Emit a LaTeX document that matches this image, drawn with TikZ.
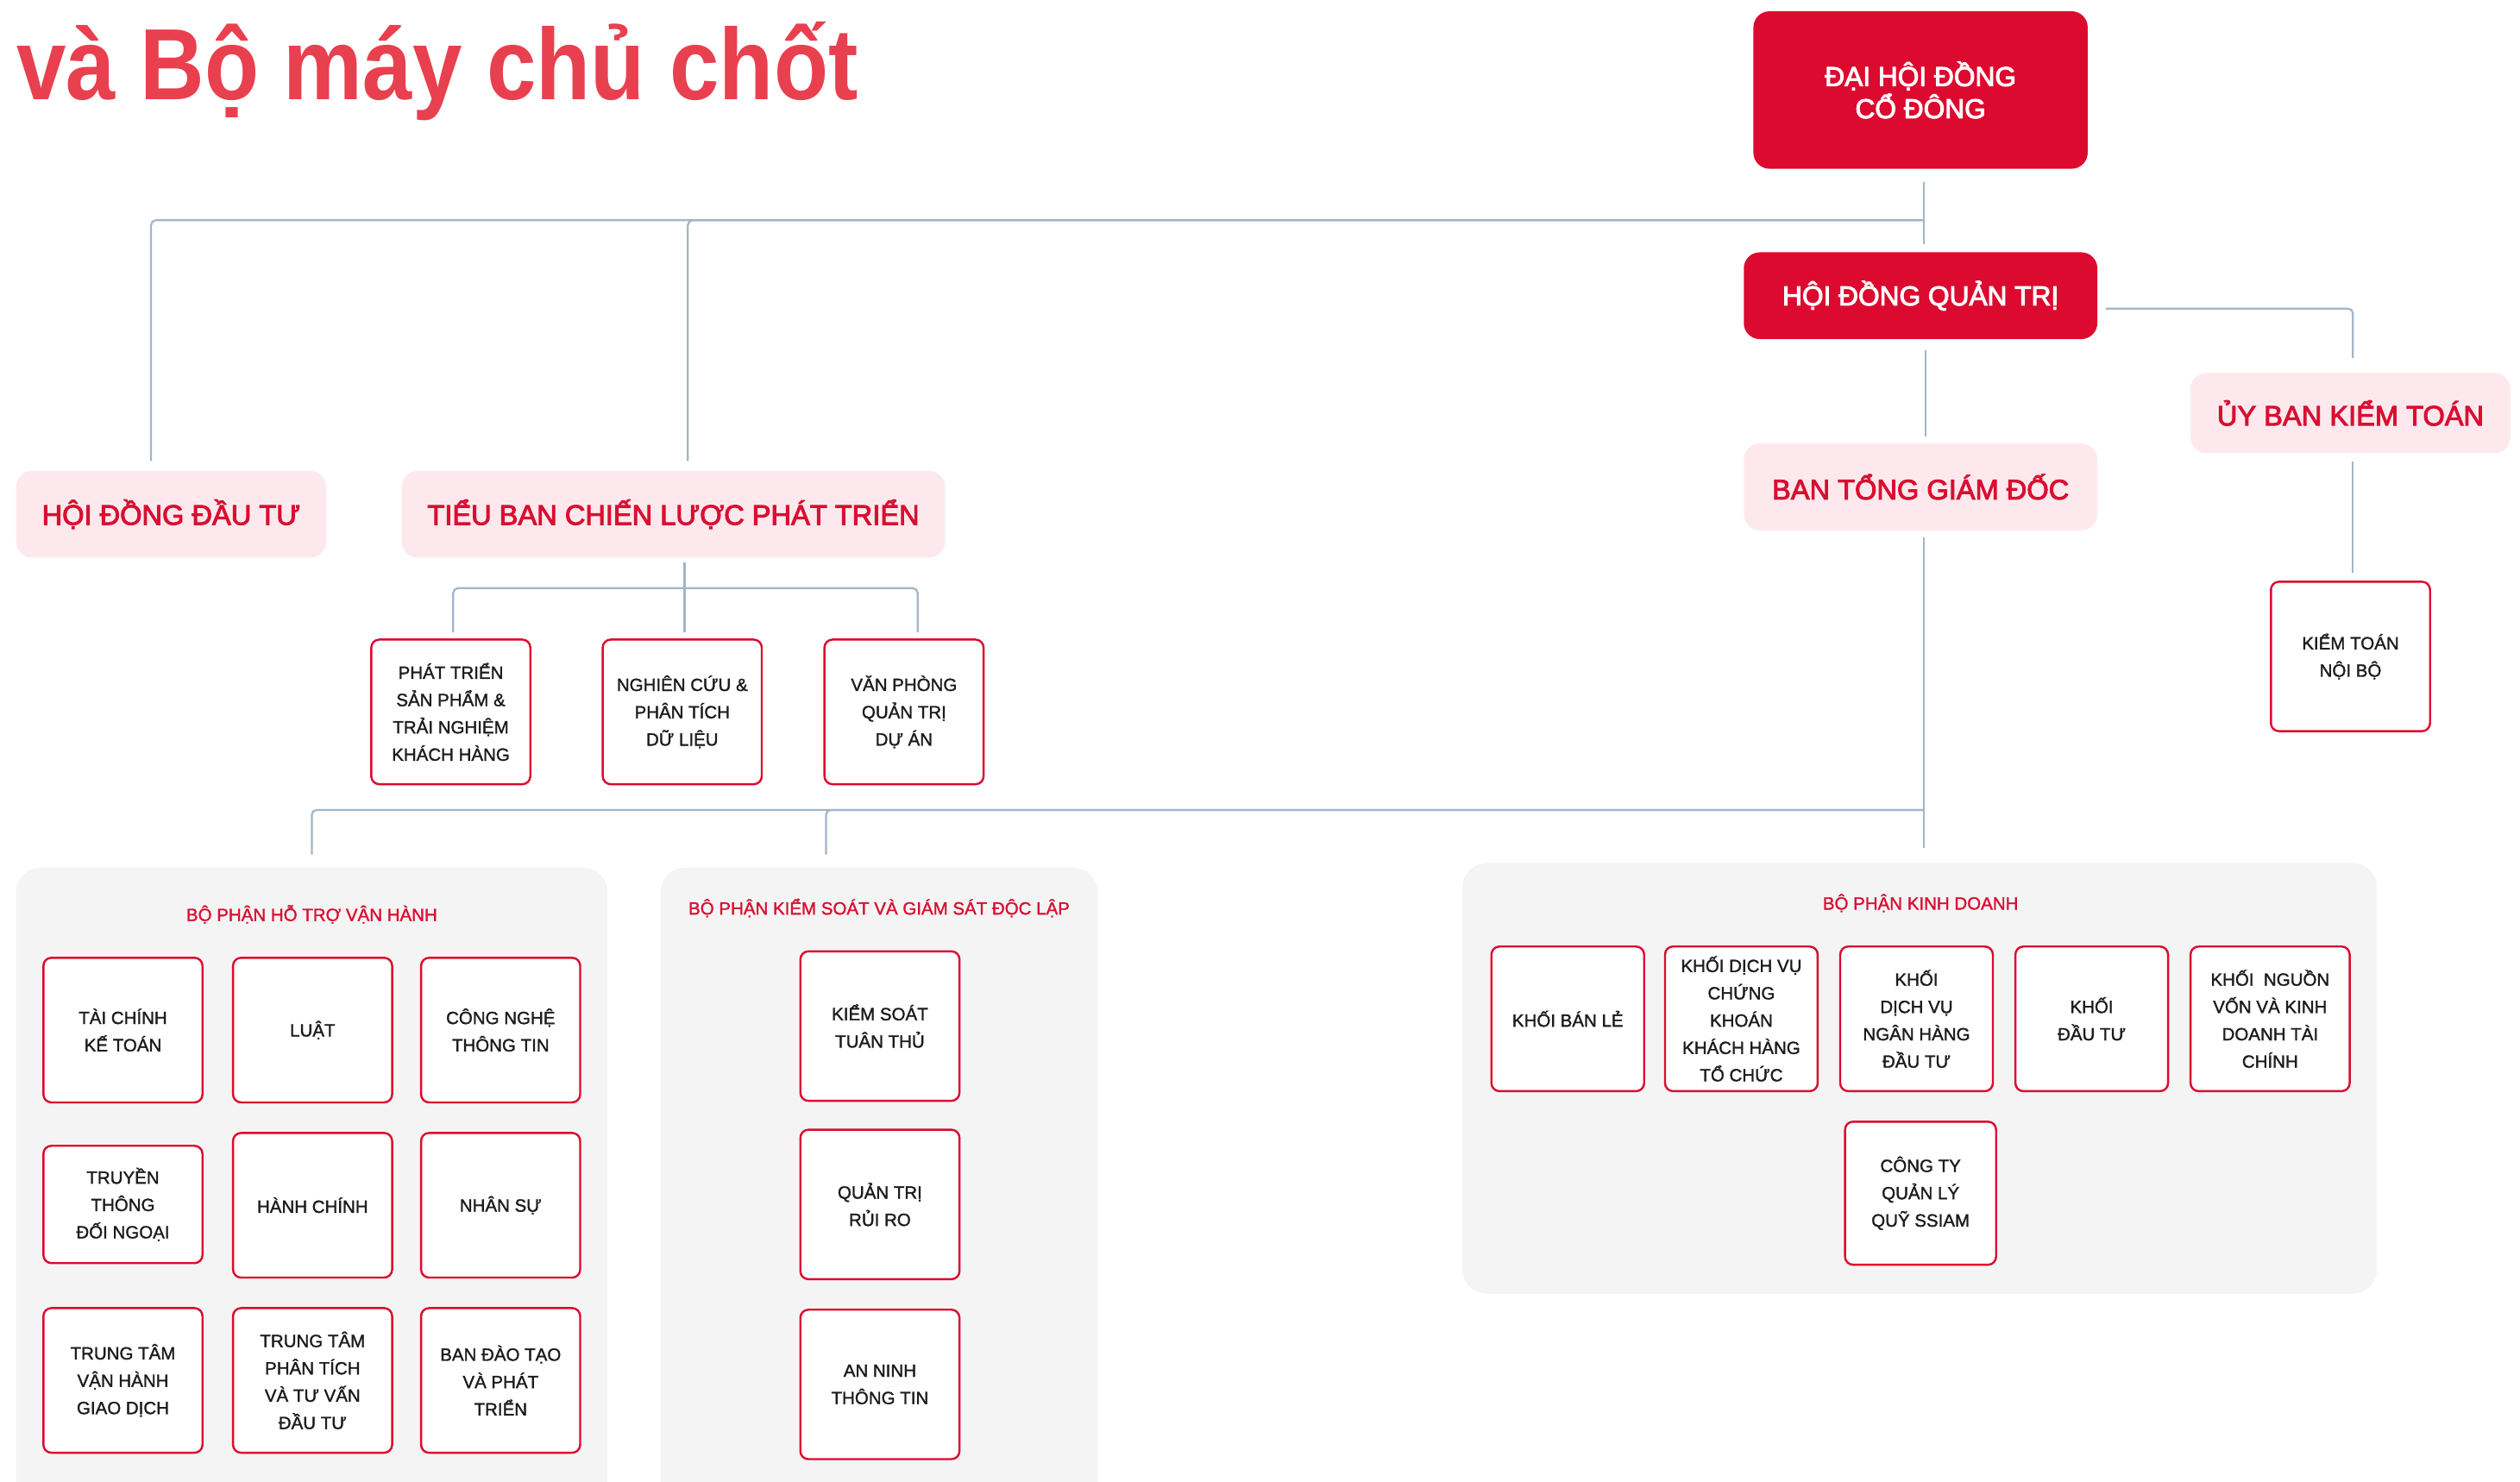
\documentclass[tikz,border=0pt]{standalone}
\usepackage{fontspec}
\setmainfont{Liberation Sans}
\newfontfamily\medfont[FakeBold=1.5]{Liberation Sans}
\newfontfamily\semifont[FakeBold=3]{Liberation Sans}
\usetikzlibrary{positioning}
\definecolor{ssired}{HTML}{DC0A2F}
\definecolor{ssipink}{HTML}{FDE9ED}
\definecolor{ssigray}{HTML}{F4F4F4}
\definecolor{ssiline}{HTML}{A3B5C7}
\definecolor{ssititle}{HTML}{E8404F}
\definecolor{ssitext}{HTML}{D90F32}
\definecolor{ssiblack}{HTML}{1C1C1C}

\begin{document}
\begin{tikzpicture}[x=1pt, y=-1pt,
    redbox/.style={rectangle, rounded corners=10pt, fill=ssired, text=white, align=center, font=\semifont\fontsize{17}{20}\selectfont, inner sep=0pt},
    pinkbox/.style={rectangle, rounded corners=10pt, fill=ssipink, text=ssitext, font=\semifont\fontsize{17.5}{21}\selectfont, inner sep=0pt, minimum height=54pt},
    unit/.style={rectangle, rounded corners=5pt, draw=ssired, line width=1.3pt, fill=white, text=ssiblack, align=center, font=\medfont\fontsize{11}{17}\selectfont, inner sep=0pt, minimum width=99pt, minimum height=90pt},
    group/.style={rectangle, rounded corners=15pt, fill=ssigray, inner sep=0pt},
    grouptitle/.style={text=ssitext, font=\medfont\fontsize{11}{13}\selectfont, inner sep=0pt},
    link/.style={draw=ssiline, line width=1.2pt, rounded corners=3pt}]

      \useasboundingbox (0,0) rectangle (1568,922);
      \fill[white] (0,0) rectangle (1568,922);

      \node[anchor=base west, text=ssititle, font=\bfseries\fontsize{63}{63}\selectfont, inner sep=0pt] (title) at (10,62) {\scalebox{0.88}[1]{và Bộ máy chủ chốt}};

      % top levels
      \node[redbox, minimum width=208pt, minimum height=98pt] (dhdcd) at (1195,56) {ĐẠI HỘI ĐỒNG\\CỔ ĐÔNG};
      \node[redbox, minimum width=220pt, minimum height=54pt] (hdqt) at (1195,184) {HỘI ĐỒNG QUẢN TRỊ};
      \node[pinkbox, minimum width=220pt] (btgd) at (1195,303) {BAN TỔNG GIÁM ĐỐC};
      \node[pinkbox, minimum width=199pt, minimum height=50pt] (ubkt) at (1462.5,257) {ỦY BAN KIỂM TOÁN};
      \node[unit, minimum height=93pt] (ktnb) at (1462.5,408.5) {KIỂM TOÁN\\NỘI BỘ};
      \node[pinkbox, minimum width=193pt] (hddt) at (106.5,320) {HỘI ĐỒNG ĐẦU TƯ};
      \node[pinkbox, minimum width=338pt] (tbcl) at (419,320) {TIỂU BAN CHIẾN LƯỢC PHÁT TRIỂN};

      \node[unit] (ptsp) at (280.5,443) {PHÁT TRIỂN\\SẢN PHẨM \&\\TRẢI NGHIỆM\\KHÁCH HÀNG};
      \node[unit] (nccu) at (424.5,443) {NGHIÊN CỨU \&\\PHÂN TÍCH\\DỮ LIỆU};
      \node[unit] (vpda) at (562.5,443) {VĂN PHÒNG\\QUẢN TRỊ\\DỰ ÁN};

      % groups
      \node[group, minimum width=368pt, minimum height=400pt] (grp1) at (194,740) {};
      \node[group, minimum width=272pt, minimum height=400pt] (grp2) at (547,740) {};
      \node[group, minimum width=569pt, minimum height=268pt] (grp3) at (1194.5,671) {};

      \node[grouptitle] (t1) at (194,569) {BỘ PHẬN HỖ TRỢ VẬN HÀNH};
      \node[grouptitle] (t2) at (547,565) {BỘ PHẬN KIỂM SOÁT VÀ GIÁM SÁT ĐỘC LẬP};
      \node[grouptitle] (t3) at (1195,562) {BỘ PHẬN KINH DOANH};

      \node[unit] (tckt) at (76.5,641) {TÀI CHÍNH\\KẾ TOÁN};
      \node[unit] (luat) at (194.5,641) {LUẬT};
      \node[unit] (cntt) at (311.5,641) {CÔNG NGHỆ\\THÔNG TIN};
      \node[unit, minimum height=73pt] (ttdn) at (76.5,749.5) {TRUYỀN\\THÔNG\\ĐỐI NGOẠI};
      \node[unit] (hchinh) at (194.5,750) {HÀNH CHÍNH};
      \node[unit] (nsu) at (311.5,750) {NHÂN SỰ};
      \node[unit] (ttvh) at (76.5,859) {TRUNG TÂM\\VẬN HÀNH\\GIAO DỊCH};
      \node[unit] (ttpt) at (194.5,859) {TRUNG TÂM\\PHÂN TÍCH\\VÀ TƯ VẤN\\ĐẦU TƯ};
      \node[unit] (bdt) at (311.5,859) {BAN ĐÀO TẠO\\VÀ PHÁT\\TRIỂN};

      \node[unit, minimum height=93pt] (ksth) at (547.5,638.5) {KIỂM SOÁT\\TUÂN THỦ};
      \node[unit, minimum height=93pt] (qtrr) at (547.5,749.5) {QUẢN TRỊ\\RỦI RO};
      \node[unit, minimum height=93pt] (antt) at (547.5,861.5) {AN NINH\\THÔNG TIN};

      \node[unit, minimum width=95pt] (kbl) at (975.5,634) {KHỐI BÁN LẺ};
      \node[unit, minimum width=95pt] (kdvck) at (1083.5,634) {KHỐI DỊCH VỤ\\CHỨNG\\KHOÁN\\KHÁCH HÀNG\\TỔ CHỨC};
      \node[unit, minimum width=95pt] (kdvnh) at (1192.5,634) {KHỐI\\DỊCH VỤ\\NGÂN HÀNG\\ĐẦU TƯ};
      \node[unit, minimum width=95pt] (kdt) at (1301.5,634) {KHỐI\\ĐẦU TƯ};
      \node[unit] (knv) at (1412.5,634) {KHỐI\ \ NGUỒN\\VỐN VÀ KINH\\DOANH TÀI\\CHÍNH};
      \node[unit, minimum width=94pt, minimum height=89pt] (ssiam) at (1195,742.5) {CÔNG TY\\QUẢN LÝ\\QUỸ SSIAM};

      % connectors
      \coordinate (j1) at (1197,137);
      \coordinate (j2) at (1197,504);
      \coordinate (j3) at (426,366);

      \draw[link] ([xshift=2pt,yshift=-8pt]dhdcd.south) -- ([xshift=2pt,yshift=5pt]hdqt.north);
      \draw[link] (j1) -| ([xshift=-12.5pt,yshift=6pt]hddt.north);
      \draw[link] (j1) -| ([xshift=9pt,yshift=6pt]tbcl.north);
      \draw[link] ([xshift=5pt,yshift=-8pt]hdqt.east) -| ([xshift=1.5pt,yshift=9pt]ubkt.north);
      \draw[link] ([xshift=3pt,yshift=-7pt]hdqt.south) -- ([xshift=3pt,yshift=4pt]btgd.north);
      \draw[link] ([xshift=1.5pt,yshift=-5pt]ubkt.south) -- ([xshift=1.5pt,yshift=5pt]ktnb.north);
      \draw[link] ([xshift=2pt,yshift=-4pt]btgd.south) -- ([xshift=2.5pt,yshift=9pt]grp3.north);
      \draw[link] (j2) -| ([yshift=8pt]grp1.north);
      \draw[link] (j2) -| ([xshift=-33pt,yshift=8pt]grp2.north);
      \draw[link] ([xshift=7pt,yshift=-3pt]tbcl.south) -- (j3);
      \draw[link] (j3) -| ([xshift=1.5pt,yshift=4pt]ptsp.north);
      \draw[link] (j3) -- ([xshift=1.5pt,yshift=4pt]nccu.north);
      \draw[link] (j3) -| ([xshift=8.5pt,yshift=4pt]vpda.north);

\end{tikzpicture}
\end{document}
